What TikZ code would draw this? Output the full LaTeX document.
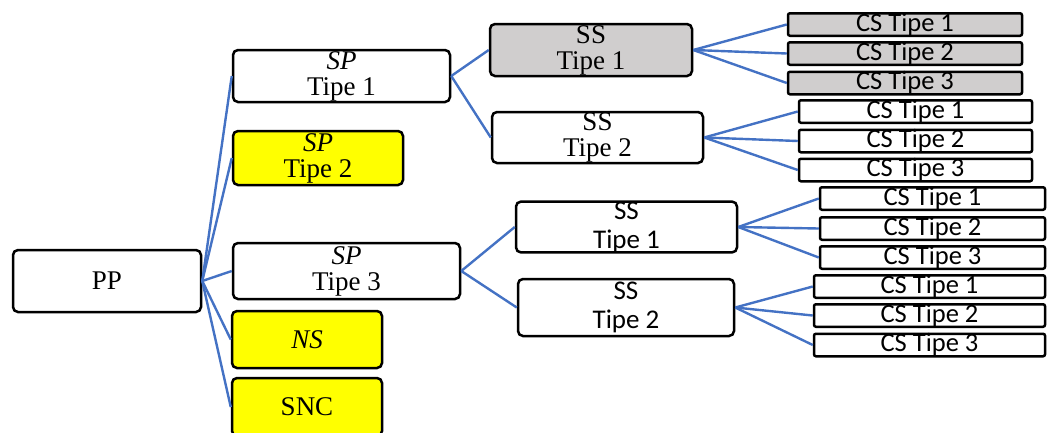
\documentclass[tikz,border=0pt]{standalone}
\usepackage{fontspec}
\setmainfont{Liberation Serif}
\newfontfamily\csfont{Carlito}
\definecolor{linkblue}{RGB}{68,114,196}
\definecolor{boxgray}{RGB}{208,206,206}
\definecolor{boxyellow}{RGB}{255,255,0}
\tikzset{
  box/.style={draw, line width=2.5pt, rounded corners=5pt, fill=white, inner sep=0pt, align=center,
    font=\fontsize{27}{26}\selectfont},
  sansbox/.style={box, font=\csfont\fontsize{27}{29}\selectfont},
  csbox/.style={draw, line width=2.5pt, rounded corners=2pt, fill=white, inner sep=0pt,
    minimum height=19pt, font=\csfont\fontsize{26.5}{26}\selectfont},
  link/.style={draw=linkblue, line width=2.4pt}
}
\newcommand{\drawLink}[2]{
  \draw[link] (#1.east) -- (#2.west);
}

\begin{document}
\begin{tikzpicture}[x=1pt, y=-1pt]
  \useasboundingbox (0,0) rectangle (1048,432);
  % Nodes
  \node[box, minimum width=188pt, minimum height=62pt] (pp) at (107,281) {PP};
  \node[box, minimum width=217pt, minimum height=52pt] (sp1) at (341.5,76) {\textit{SP}\\Tipe 1};
  \node[box, fill=boxyellow, minimum width=170pt, minimum height=54pt] (sp2) at (318,158) {\textit{SP}\\Tipe 2};
  \node[box, minimum width=227pt, minimum height=56pt] (sp3) at (346.5,271) {\textit{SP}\\Tipe 3};
  \node[box, fill=boxyellow, minimum width=150pt, minimum height=57pt] (ns) at (307,339.5) {\textit{NS}};
  \node[box, fill=boxyellow, minimum width=150pt, minimum height=58pt] (snc) at (307,407) {SNC};

  \node[box, fill=boxgray, minimum width=202pt, minimum height=52pt] (ssA) at (591,50) {SS\\Tipe 1};
  \node[box, minimum width=211pt, minimum height=51pt] (ssB) at (597.5,137.5) {SS\\Tipe 2};
  \node[sansbox, minimum width=221pt, minimum height=48pt] (ssC) at (626.5,227) {SS\\Tipe 1};
  \node[sansbox, minimum width=216pt, minimum height=57pt] (ssD) at (626,307.5) {SS\\Tipe 2};

  \node[csbox, fill=boxgray, minimum width=234pt] (csA1) at (905,24.5) {CS Tipe 1};
  \node[csbox, fill=boxgray, minimum width=234pt] (csA2) at (905,53.5) {CS Tipe 2};
  \node[csbox, fill=boxgray, minimum width=234pt] (csA3) at (905,83) {CS Tipe 3};
  \node[csbox, minimum width=233pt] (csB1) at (915.5,111.5) {CS Tipe 1};
  \node[csbox, minimum width=233pt] (csB2) at (915.5,141) {CS Tipe 2};
  \node[csbox, minimum width=233pt] (csB3) at (915.5,170) {CS Tipe 3};
  \node[csbox, minimum width=225pt] (csC1) at (932.5,198.5) {CS Tipe 1};
  \node[csbox, minimum width=225pt] (csC2) at (932.5,228.5) {CS Tipe 2};
  \node[csbox, minimum width=225pt] (csC3) at (932.5,257.5) {CS Tipe 3};
  \node[csbox, minimum width=231pt] (csD1) at (929.5,286.5) {CS Tipe 1};
  \node[csbox, minimum width=231pt] (csD2) at (929.5,315.5) {CS Tipe 2};
  \node[csbox, minimum width=231pt] (csD3) at (929.5,345) {CS Tipe 3};

  % Links
  \drawLink{pp}{sp1}
  \drawLink{pp}{sp2}
  \drawLink{pp}{sp3}
  \drawLink{pp}{ns}
  \drawLink{pp}{snc}
  \drawLink{sp1}{ssA}
  \drawLink{sp1}{ssB}
  \drawLink{sp3}{ssC}
  \drawLink{sp3}{ssD}
  \drawLink{ssA}{csA1}
  \drawLink{ssA}{csA2}
  \drawLink{ssA}{csA3}
  \drawLink{ssB}{csB1}
  \drawLink{ssB}{csB2}
  \drawLink{ssB}{csB3}
  \drawLink{ssC}{csC1}
  \drawLink{ssC}{csC2}
  \drawLink{ssC}{csC3}
  \drawLink{ssD}{csD1}
  \drawLink{ssD}{csD2}
  \drawLink{ssD}{csD3}
\end{tikzpicture}
\end{document}
